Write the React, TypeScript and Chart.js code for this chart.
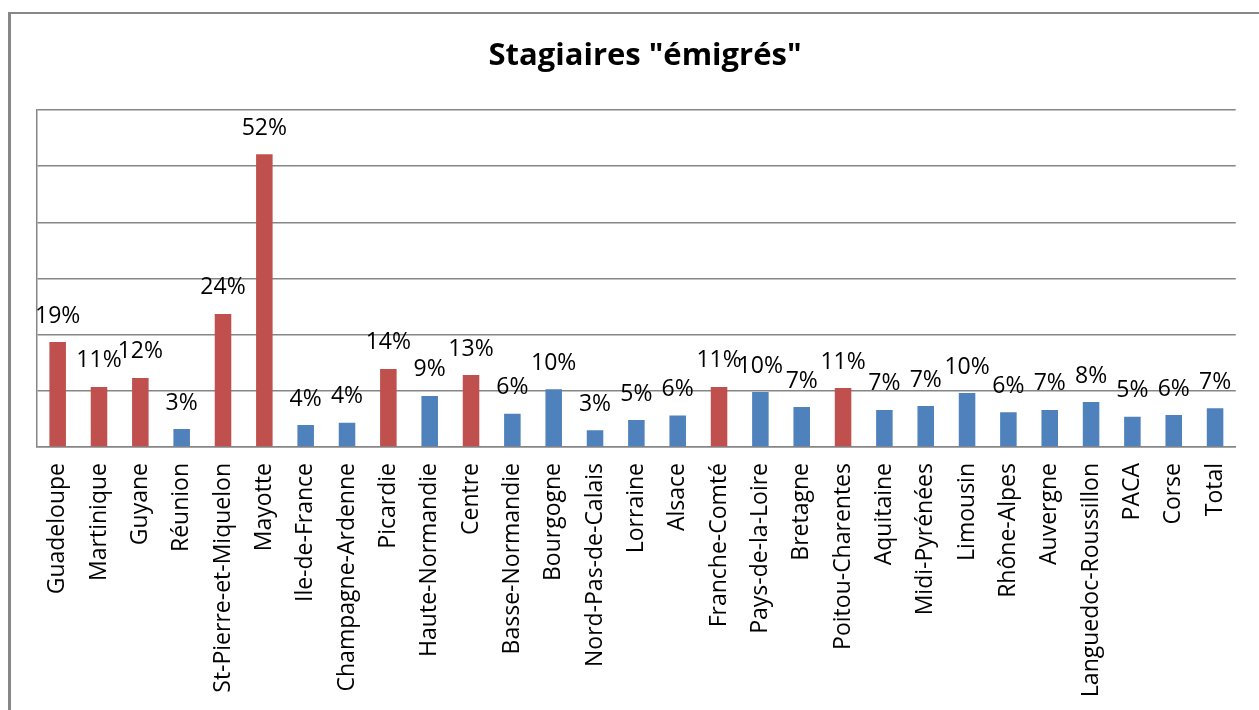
import React, { useEffect, useRef } from "react";
import { Chart, registerables } from "chart.js";

Chart.register(...registerables);

const TITLE = 'Stagiaires "émigrés"';

const regions = [
  "Guadeloupe", "Martinique", "Guyane", "Réunion", "St-Pierre-et-Miquelon", "Mayotte",
  "Ile-de-France", "Champagne-Ardenne", "Picardie", "Haute-Normandie", "Centre",
  "Basse-Normandie", "Bourgogne", "Nord-Pas-de-Calais", "Lorraine", "Alsace",
  "Franche-Comté", "Pays-de-la-Loire", "Bretagne", "Poitou-Charentes", "Aquitaine",
  "Midi-Pyrénées", "Limousin", "Rhône-Alpes", "Auvergne", "Languedoc-Roussillon",
  "PACA", "Corse", "Total",
];

const shares = [
  18.7, 10.7, 12.3, 3.2, 23.7, 52.1,
  3.9, 4.3, 13.9, 9.1, 12.8,
  5.9, 10.3, 3.0, 4.8, 5.6,
  10.7, 9.8, 7.1, 10.5, 6.6,
  7.3, 9.6, 6.2, 6.6, 8.0,
  5.4, 5.7, 6.9,
];

const highlighted = [
  true, true, true, false, true, true,
  false, false, true, false, true,
  false, false, false, false, false,
  true, false, false, true, false,
  false, false, false, false, false,
  false, false, false,
];

const RED = "#C0504D";
const BLUE = "#4F81BD";
const GRID = "#868686";
const FONT = "'Open Sans', 'DejaVu Sans', sans-serif";

export default function App() {
  const ref = useRef<HTMLCanvasElement | null>(null);

  useEffect(() => {
    const canvas = ref.current;
    if (!canvas) return;

    const framePlugin = {
      id: "frame",
      beforeDraw(chart: any) {
        const ctx = chart.ctx;
        ctx.save();
        ctx.fillStyle = "#ffffff";
        ctx.fillRect(0, 0, chart.width, chart.height);
        ctx.fillStyle = "#878787";
        ctx.fillRect(8, 12, 3, chart.height - 12);
        ctx.fillRect(8, 12, chart.width - 8, 2);
        ctx.restore();
      },
    };

    const titlePlugin = {
      id: "customTitle",
      afterDraw(chart: any) {
        const ctx = chart.ctx;
        ctx.save();
        ctx.font = `bold 31px ${FONT}`;
        ctx.fillStyle = "#000";
        ctx.textAlign = "center";
        ctx.textBaseline = "middle";
        ctx.fillText(TITLE, 645, 56);
        ctx.restore();
      },
    };

    const labelPlugin = {
      id: "valueLabels",
      afterDatasetsDraw(chart: any) {
        const ctx = chart.ctx;
        const meta = chart.getDatasetMeta(0);
        ctx.save();
        ctx.font = `23px ${FONT}`;
        ctx.fillStyle = "#000";
        ctx.textAlign = "center";
        ctx.textBaseline = "middle";
        meta.data.forEach((el: any, i: number) => {
          ctx.fillText(`${Math.round(shares[i])}%`, el.x, el.y - 26);
        });
        ctx.restore();
      },
    };

    const chart = new Chart(canvas, {
      type: "bar",
      data: {
        labels: regions,
        datasets: [
          {
            data: shares,
            backgroundColor: highlighted.map((h) => (h ? RED : BLUE)),
            borderWidth: 0,
            barPercentage: 0.4,
            categoryPercentage: 1,
          },
        ],
      },
      options: {
        responsive: false,
        animation: false,
        layout: { padding: { left: 37, right: 19, top: 110, bottom: 0 } },
        plugins: {
          legend: { display: false },
          title: { display: false },
          tooltip: { enabled: false },
        },
        scales: {
          x: {
            grid: { display: false, drawTicks: false },
            border: { display: true, color: GRID, width: 1.5 },
            ticks: {
              autoSkip: false,
              minRotation: 90,
              maxRotation: 90,
              padding: 16,
              color: "#000",
              font: { family: FONT, size: 23 },
            },
            afterFit(scale: any) {
              scale.height = 263;
            },
          },
          y: {
            min: 0,
            max: 60,
            ticks: { display: false, stepSize: 10 },
            grid: { color: GRID, lineWidth: 1.5, drawTicks: false },
            border: { display: true, color: GRID, width: 1.5 },
            afterFit(scale: any) {
              scale.width = 0;
            },
          },
        },
      },
      plugins: [framePlugin, titlePlugin, labelPlugin],
    });

    return () => chart.destroy();
  }, []);

  return (
    <div style={{ position: "fixed", left: 0, top: 0, width: 1259, height: 710, background: "#fff" }}>
      <canvas ref={ref} width={1259} height={710} style={{ display: "block" }} />
    </div>
  );
}
